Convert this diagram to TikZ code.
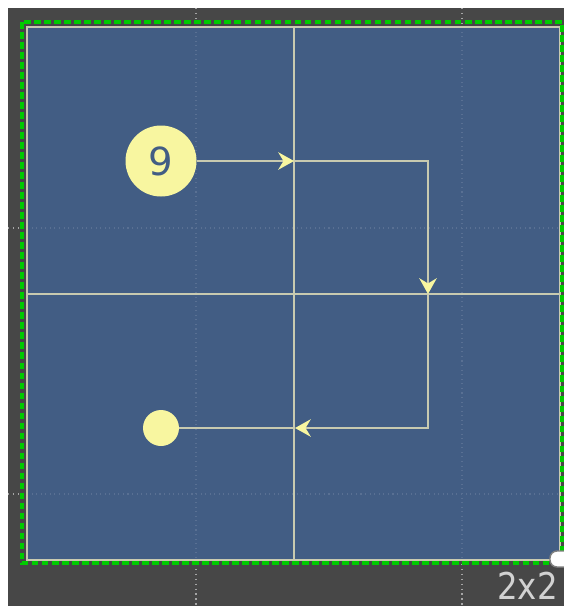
\documentclass[tikz,border=0pt]{standalone}
\usepackage{fontspec}
\setmainfont{DejaVu Sans}
\usepackage{xcolor}
\usepackage{tikz}
\usetikzlibrary{arrows.meta, positioning}
\definecolor{canvasgray}{RGB}{71, 71, 71}
\definecolor{cellblue}{RGB}{66, 93, 132}
\definecolor{gridline}{RGB}{200, 202, 176}
\definecolor{dotyellow}{RGB}{248, 246, 160}
\definecolor{selgreen}{RGB}{0, 204, 0}

\begin{document}
\begin{tikzpicture}[
  x=0.02cm, y=-0.02cm,
  bigdot/.style={circle, fill=dotyellow, minimum size=71*0.02cm, inner sep=0pt,
                 font=\fontsize{22}{22}\selectfont, text=cellblue},
  smalldot/.style={circle, fill=dotyellow, minimum size=36*0.02cm, inner sep=0pt},
  wire/.style={gridline, line width=0.8pt},
  arr/.style={wire, -{Stealth[length=9pt, width=10pt, inset=3pt, color=dotyellow]}},
  guide/.style={gray!70, line width=0.8pt, dotted},
  faint/.style={cellblue!88!white, line width=0.6pt, dotted}
]
% canvas
\fill[white] (0,0) rectangle (564,606);
\fill[canvasgray] (8,8) rectangle (564,606);
\useasboundingbox (0,0) rectangle (564,606);
\draw[guide] (196,8) -- (196,606);
\draw[guide] (462,8) -- (462,606);
\draw[guide] (8,228) -- (564,228);
\draw[guide] (8,494) -- (564,494);
\fill[cellblue] (26,26) rectangle (561,561);
\draw[faint] (196,27) -- (196,560);
\draw[faint] (462,27) -- (462,560);
\draw[faint] (27,228) -- (560,228);
\draw[faint] (27,494) -- (560,494);
\draw[wire] (294,27) -- (294,560);
\draw[wire] (27,294) -- (560,294);
\draw[wire] (27,27) rectangle (560,560);
\draw[selgreen, line width=2pt, dash pattern=on 3.8pt off 1.9pt] (22,22) rectangle (562,563);
\draw[gray, fill=white, rounded corners=4pt, line width=0.8pt] (550,551) rectangle (575,567);
\node[text=gray!35, font=\fontsize{21}{21}\selectfont, xscale=0.88, anchor=south east, inner sep=0pt] (size) at (558,600) {2x2};

% path
\node[bigdot] (start) at (161,161) {9};
\node[smalldot] (stop) at (161,428) {};
\coordinate (mA) at (294,161);
\coordinate (cTR) at (428,161);
\coordinate (mB) at (428,294);
\coordinate (cBR) at (428,428);
\coordinate (mC) at (295,428);

\draw[wire] (mC) -- (stop);
\draw[arr] (start) -- (mA);
\draw[arr] (mA) -- (cTR) -- (mB);
\draw[arr] (mB) -- (cBR) -- (mC);
\end{tikzpicture}
\end{document}
